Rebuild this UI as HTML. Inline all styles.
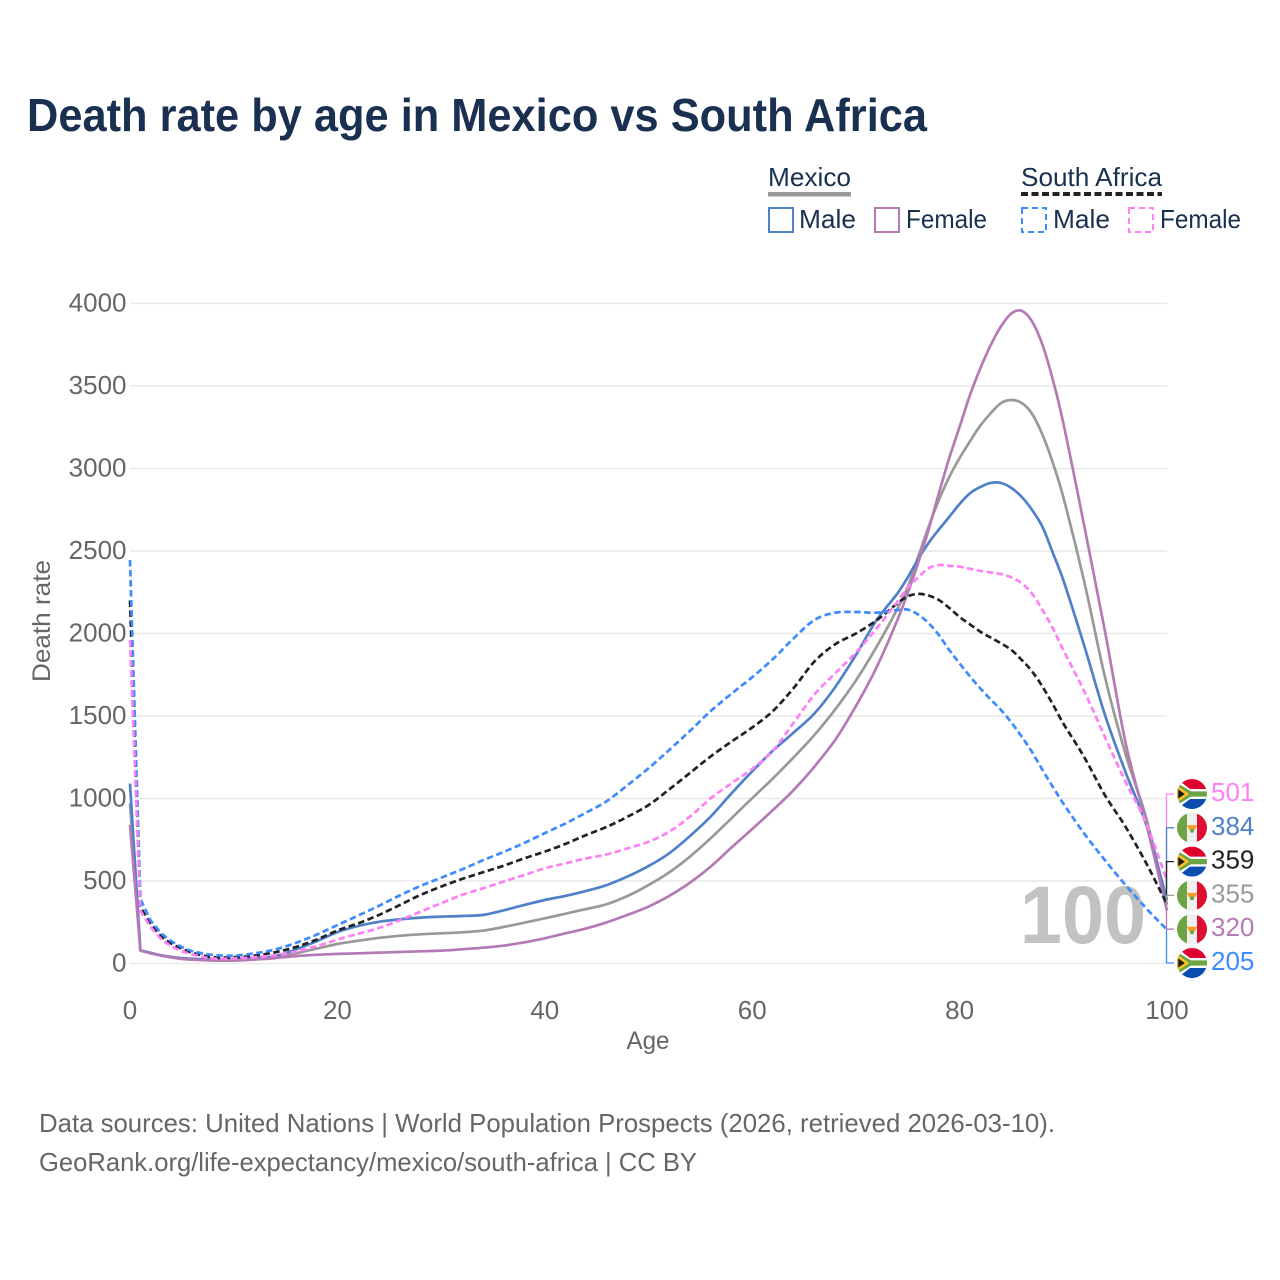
<!DOCTYPE html>
<html lang="en">
<head>
<meta charset="utf-8">
<title>Death rate by age in Mexico vs South Africa</title>
<style>
html,body{margin:0;padding:0;background:#fff;}
svg{display:block;}
text{font-family:"Liberation Sans",sans-serif;}
</style>
</head>
<body>
<svg id="chart" xmlns="http://www.w3.org/2000/svg" width="1280" height="1280" viewBox="0 0 1280 1280">
  <defs>
    <clipPath id="flag-clip"><circle cx="0" cy="0" r="15"/></clipPath>
    <g id="flag-za" clip-path="url(#flag-clip)">
      <rect x="-15" y="-15" width="30" height="15" fill="#e0002d"/>
      <rect x="-15" y="0" width="30" height="15" fill="#0b4eb0"/>
      <path d="M-15,-15 L-2,-5 H15 V5 H-2 L-15,15 Z" fill="#fff"/>
      <path d="M-15,-11 L-1,-2.6 H15 V2.6 H-1 L-15,11 Z" fill="#6da544"/>
      <path d="M-15,-7 L-5,0 L-15,7 Z" fill="#1b1b1b" stroke="#ffc220" stroke-width="2.5"/>
    </g>
    <g id="flag-mx" clip-path="url(#flag-clip)">
      <rect x="-15" y="-15" width="10" height="30" fill="#6da544"/>
      <rect x="-5" y="-15" width="10" height="30" fill="#f0f0f0"/>
      <rect x="5" y="-15" width="10" height="30" fill="#dc0f32"/>
      <path d="M-5,-2.5 H5 L3,2 H-3 Z" fill="#f59a23"/>
      <circle cx="0" cy="3" r="2" fill="#6da544"/>
    </g>
  </defs>

  <text x="27" y="131" font-size="46" font-weight="700" fill="#1a3050" textLength="900" lengthAdjust="spacingAndGlyphs">Death rate by age in Mexico vs South Africa</text>

  <g fill="#1a3050" font-size="26">
    <text x="768" y="186" textLength="83" lengthAdjust="spacingAndGlyphs">Mexico</text>
    <rect x="768" y="192" width="83" height="4.5" fill="#999999"/>
    <text x="1021" y="186" textLength="141" lengthAdjust="spacingAndGlyphs">South Africa</text>
    <line x1="1021" x2="1162" y1="194" y2="194" stroke="#222222" stroke-width="4" stroke-dasharray="7 3.5"/>
    <rect x="769" y="208" width="24" height="24" fill="none" stroke="#4f81c9" stroke-width="2"/>
    <text x="799" y="228" textLength="57" lengthAdjust="spacingAndGlyphs">Male</text>
    <rect x="875" y="208" width="24" height="24" fill="none" stroke="#b57ab5" stroke-width="2"/>
    <text x="906" y="228" textLength="81" lengthAdjust="spacingAndGlyphs">Female</text>
    <rect x="1022" y="208" width="24" height="24" fill="none" stroke="#3d8bff" stroke-width="2" stroke-dasharray="6 4"/>
    <text x="1053" y="228" textLength="57" lengthAdjust="spacingAndGlyphs">Male</text>
    <rect x="1129" y="208" width="24" height="24" fill="none" stroke="#ff80f5" stroke-width="2" stroke-dasharray="6 4"/>
    <text x="1160" y="228" textLength="81" lengthAdjust="spacingAndGlyphs">Female</text>
  </g>

  <g id="grid"></g>
  <g id="y-ticks"></g>
  <g id="x-ticks"></g>
  <text x="648" y="1049" font-size="25" fill="#666666" text-anchor="middle" textLength="43" lengthAdjust="spacingAndGlyphs">Age</text>
  <text transform="translate(50,621) rotate(-90)" font-size="25" fill="#666666" text-anchor="middle" textLength="122" lengthAdjust="spacingAndGlyphs">Death rate</text>
  <text id="age-readout" x="1146" y="943" font-size="82" font-weight="700" fill="#c2c2c2" text-anchor="end" textLength="126" lengthAdjust="spacingAndGlyphs"></text>
  <g id="series"></g>
  <g id="end-labels"></g>

  <g font-size="26" fill="#666666">
    <text x="39" y="1132" textLength="1016" lengthAdjust="spacingAndGlyphs">Data sources: United Nations | World Population Prospects (2026, retrieved 2026-03-10).</text>
    <text x="39" y="1171" textLength="658" lengthAdjust="spacingAndGlyphs">GeoRank.org/life-expectancy/mexico/south-africa | CC BY</text>
  </g>

<script>
const ages = [0,1,2,3,4,5,6,
  8,10,12,14,16,18,20,22,24,26,28,30,32,34,36,38,40,42,44,46,48,50,52,54,56,58,60,62,64,66,68,70,72,74,
  75,76,77,78,79,80,81,82,83,84,85,86,87,88,89,90,
  92,94,96,98,100];
const mexicoBoth = [970,78,62,48,38,30,26,
  22,22,28,38,62,90,118,138,155,168,177,183,189,199,221,247,274,302,330,360,410,475,552,648,759,880,1002,1122,1250,1385,1540,1715,1920,2150,
  2282,2463,2645,2809,2948,3063,3165,3260,3335,3397,3415,3397,3330,3203,3033,2827,
  2320,1740,1270,880,355];
const mexicoFemale = [840,78,62,48,37,28,23,
  18,18,24,33,45,53,58,62,66,70,74,78,86,96,108,128,153,183,213,250,295,345,410,490,587,703,815,930,1052,1193,1355,1560,1795,2082,
  2245,2427,2627,2850,3063,3253,3445,3607,3748,3862,3940,3955,3890,3748,3536,3276,
  2660,2020,1340,850,320];
const mexicoMale = [1090,80,65,50,40,33,28,
  25,25,32,45,85,135,190,227,253,268,278,284,288,294,322,354,385,410,440,476,528,590,668,773,890,1031,1165,1290,1400,1515,1675,1870,2082,2243,
  2340,2450,2548,2630,2706,2785,2850,2888,2913,2912,2882,2827,2748,2645,2488,2324,
  1930,1510,1160,840,384];
const southAfricaBoth = [2200,340,240,165,120,90,65,
  38,38,48,68,100,145,200,243,294,354,415,466,512,552,592,637,678,725,779,829,890,960,1055,1155,1255,1345,1430,1530,1670,1830,1935,2000,2080,2183,
  2225,2240,2230,2203,2155,2100,2055,2011,1975,1940,1900,1839,1770,1677,1570,1455,
  1253,1021,829,607,359];
const southAfricaMale = [2445,390,260,185,135,100,75,
  52,48,62,85,125,175,233,290,350,412,470,520,570,625,675,730,790,849,915,985,1082,1183,1294,1410,1530,1635,1735,1845,1971,2082,2126,2130,2126,2142,
  2145,2115,2064,1990,1900,1819,1740,1667,1600,1536,1460,1374,1280,1172,1070,970,
  789,627,476,334,205];
const southAfricaFemale = [1960,320,220,150,105,75,55,
  30,30,38,50,72,105,145,180,215,262,314,365,415,455,496,536,577,607,637,662,698,738,799,890,1001,1092,1180,1290,1460,1630,1759,1885,2031,2193,
  2280,2340,2395,2415,2410,2405,2392,2380,2370,2360,2340,2304,2240,2142,2030,1900,
  1653,1374,1102,849,501];
const yTickValues = [0,500,1000,1500,2000,2500,3000,3500,4000];
const xTickValues = [0,20,40,60,80,100];

const NS = 'http://www.w3.org/2000/svg';
function xScale(age){ return 130 + age * 10.37; }
function yScale(rate){ return 963.5 - rate * 0.165; }
function make(tag, attrs, parent){
  const el = document.createElementNS(NS, tag);
  for (const k in attrs) el.setAttribute(k, attrs[k]);
  parent.appendChild(el);
  return el;
}
function curvePath(vals){
  const xs = ages.map(xScale);
  const ys = vals.map(yScale);
  const n = xs.length;
  let d = 'M' + xs[0].toFixed(1) + ',' + ys[0].toFixed(1) + ' L' + xs[1].toFixed(1) + ',' + ys[1].toFixed(1) + ' L' + xs[2].toFixed(1) + ',' + ys[2].toFixed(1);
  function slope(i){
    if (i <= 2) return (ys[i+1] - ys[i]) / (xs[i+1] - xs[i]);
    if (i >= n - 1) return (ys[i] - ys[i-1]) / (xs[i] - xs[i-1]);
    return (ys[i+1] - ys[i-1]) / (xs[i+1] - xs[i-1]);
  }
  for (let i = 2; i < n - 1; i++){
    const dx = (xs[i+1] - xs[i]) / 3;
    const c1x = xs[i] + dx, c1y = ys[i] + slope(i) * dx;
    const c2x = xs[i+1] - dx, c2y = ys[i+1] - slope(i+1) * dx;
    d += ' C' + c1x.toFixed(1) + ',' + c1y.toFixed(1) + ' ' + c2x.toFixed(1) + ',' + c2y.toFixed(1) + ' ' + xs[i+1].toFixed(1) + ',' + ys[i+1].toFixed(1);
  }
  return d;
}

const gridG = document.getElementById('grid');
const yG = document.getElementById('y-ticks');
yTickValues.forEach(function(v){
  const ln = make('line', {x1:xScale(0), x2:xScale(100), y1:yScale(v), y2:yScale(v), stroke:'#e9e9e9', 'stroke-width':1.5}, gridG);
  
  
  const t = make('text', {x:126.5, y:yScale(v)+8, 'font-size':26, fill:'#666666', 'text-anchor':'end'}, yG);
  
  
  t.textContent = v;
});
const xG = document.getElementById('x-ticks');
xTickValues.forEach(function(v){
  const t = make('text', {x:xScale(v), y:1019, 'font-size':26, fill:'#666666', 'text-anchor':'middle'}, xG);
  
  
  t.textContent = v;
});
document.getElementById('age-readout').textContent = ages[ages.length-1];

const seriesList = [
  {key:'mexico-both',        vals:mexicoBoth,        color:'#999999', dash:'',      flag:'flag-mx'},
  {key:'mexico-male',        vals:mexicoMale,        color:'#4f81c9', dash:'',      flag:'flag-mx'},
  {key:'mexico-female',      vals:mexicoFemale,      color:'#b57ab5', dash:'',      flag:'flag-mx'},
  {key:'south-africa-both',  vals:southAfricaBoth,   color:'#222222', dash:'6.5 3.5', flag:'flag-za'},
  {key:'south-africa-male',  vals:southAfricaMale,   color:'#3d8bff', dash:'6.5 3.5', flag:'flag-za'},
  {key:'south-africa-female',vals:southAfricaFemale, color:'#ff80f5', dash:'6.5 3.5', flag:'flag-za'}
];
const seriesG = document.getElementById('series');
seriesList.forEach(function(s){
  const p = make('path', {d:curvePath(s.vals), fill:'none', stroke:s.color, 'stroke-width':2.7, 'stroke-linejoin':'round'}, seriesG);
  if (s.dash) p.setAttribute('stroke-dasharray', s.dash);
  
  
});

const labelsG = document.getElementById('end-labels');
const sorted = seriesList.slice().sort(function(a,b){
  return b.vals[b.vals.length-1] - a.vals[a.vals.length-1];
});
sorted.forEach(function(s,i){
  const last = s.vals[s.vals.length-1];
  const ly = 794 + i * 33.8;
  const conn = make('path', {d:'M1166.5,' + yScale(last).toFixed(1) + ' V' + ly + ' H1174', fill:'none', stroke:s.color, 'stroke-width':1.3}, labelsG);
  
  
  const flag = make('use', {href:'#' + s.flag, transform:'translate(1192,' + ly + ')'}, labelsG);
  
  
  const t = make('text', {x:1211, y:ly+7, 'font-size':26, fill:s.color}, labelsG);
  
  
  t.textContent = last;
});
</script>
</svg>
</body>
</html>
